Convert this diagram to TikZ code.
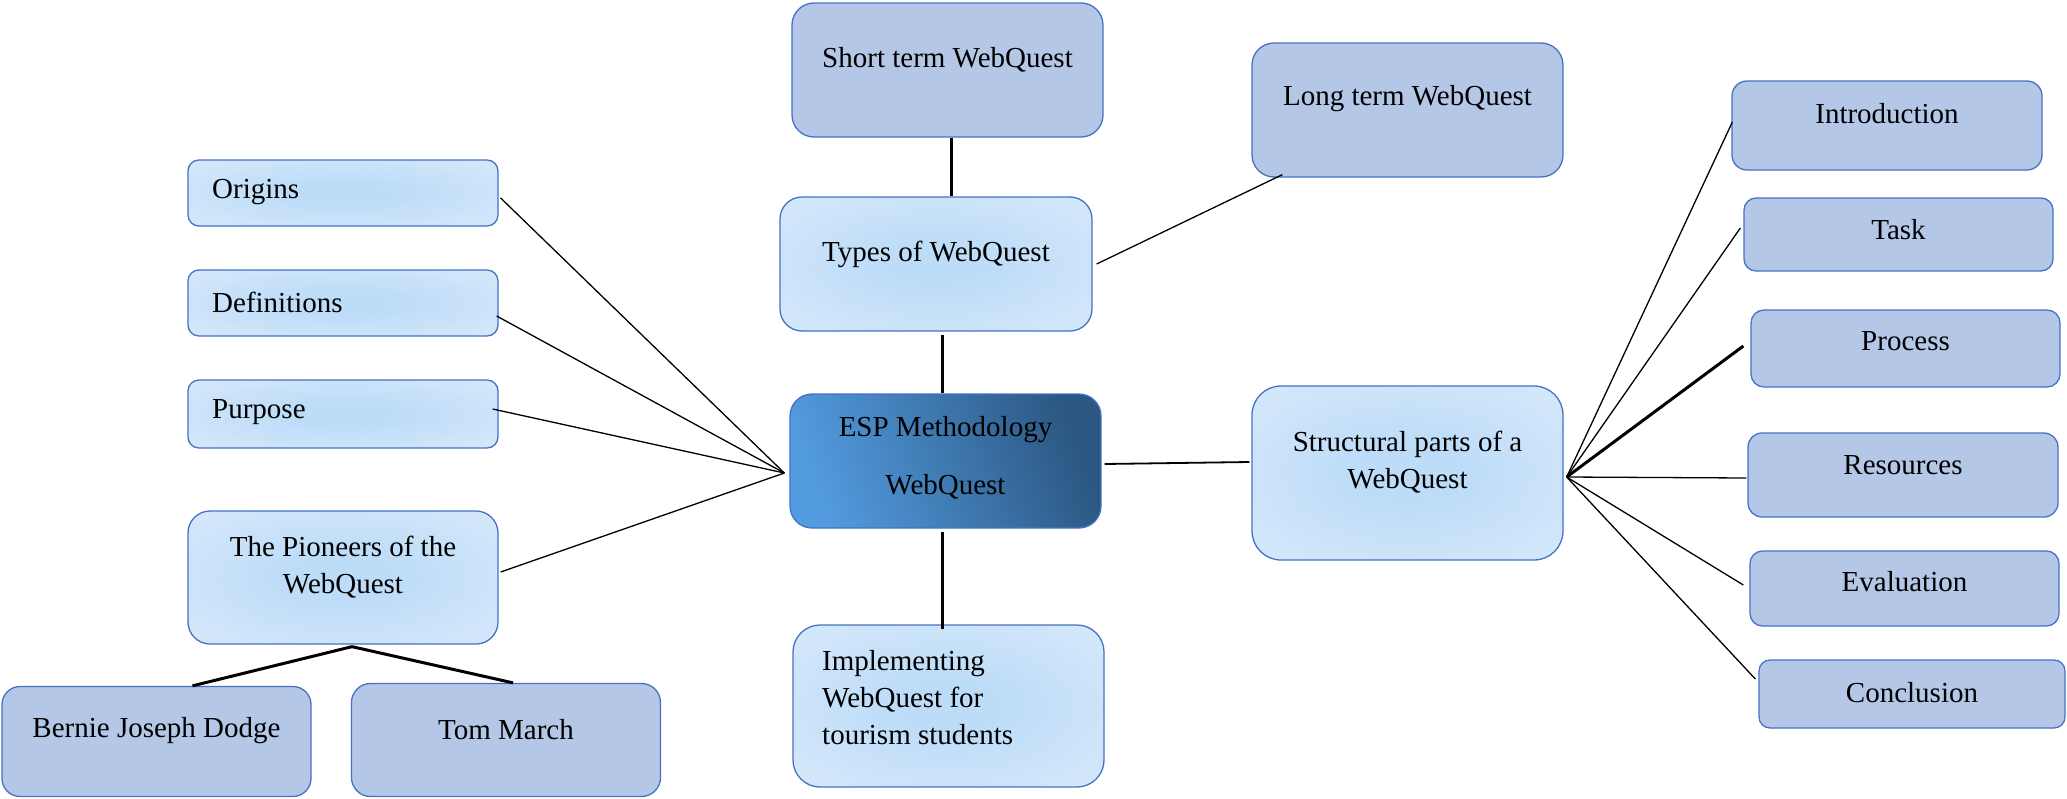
\documentclass[tikz,border=0pt]{standalone}
\usepackage{fontspec}
\setmainfont{Liberation Serif}
\definecolor{darkfill}{HTML}{B4C7E7}
\definecolor{bord}{HTML}{4472C4}
\definecolor{lightin}{HTML}{BDDCF8}
\definecolor{lightout}{HTML}{E4EFFC}
\definecolor{espL}{HTML}{529BDF}
\definecolor{espR}{HTML}{2C5782}
\pgfdeclareradialshading{lightrad}{\pgfpoint{0bp}{0bp}}{color(0bp)=(lightin); color(8bp)=(lightin); color(50bp)=(lightout); color(72bp)=(lightout)}
\tikzset{
  boxbase/.style={draw=bord, line width=1.3pt, inner sep=0pt},
  darkbox/.style={boxbase, fill=darkfill},
  lightbox/.style={boxbase, shade, shading=lightrad},
  espbox/.style={boxbase, left color=espL, right color=espR, shading angle=110},
  txt/.style={font=\fontsize{29}{37}\selectfont, inner sep=0pt, align=center},
  ltxt/.style={txt, align=left, anchor=west},
  thinline/.style={line width=1.3pt, black},
  thickline/.style={line width=3pt, black},
}
\begin{document}
\begin{tikzpicture}[x=1pt,y=-1pt]
\useasboundingbox (0,0) rectangle (2067,798);
% boxes
\node[darkbox, minimum width=311pt, minimum height=134pt, rounded corners=22pt] (short) at (947.5,70) {};
\node[lightbox, minimum width=312pt, minimum height=134pt, rounded corners=22pt] (types) at (936,264) {};
\node[espbox, minimum width=311pt, minimum height=134pt, rounded corners=22pt] (esp) at (945.5,461) {};
\node[lightbox, minimum width=311pt, minimum height=162pt, rounded corners=27pt] (impl) at (948.5,706) {};
\node[darkbox, minimum width=311pt, minimum height=134pt, rounded corners=22pt] (long) at (1407.5,110) {};
\node[lightbox, minimum width=311pt, minimum height=174pt, rounded corners=29pt] (struct) at (1407.5,473) {};
\node[darkbox, minimum width=310pt, minimum height=89pt, rounded corners=15pt] (intro) at (1887,125.5) {};
\node[darkbox, minimum width=309pt, minimum height=73pt, rounded corners=12pt] (task) at (1898.5,234.5) {};
\node[darkbox, minimum width=309pt, minimum height=77pt, rounded corners=13pt] (process) at (1905.5,348.5) {};
\node[darkbox, minimum width=310pt, minimum height=84pt, rounded corners=14pt] (resources) at (1903,475) {};
\node[darkbox, minimum width=309pt, minimum height=75pt, rounded corners=12.5pt] (evaluation) at (1904.5,588.5) {};
\node[darkbox, minimum width=306pt, minimum height=68pt, rounded corners=11pt] (conclusion) at (1912,694) {};
\node[lightbox, minimum width=310pt, minimum height=66pt, rounded corners=11pt] (origins) at (343,193) {};
\node[lightbox, minimum width=310pt, minimum height=66pt, rounded corners=11pt] (definitions) at (343,303) {};
\node[lightbox, minimum width=310pt, minimum height=68pt, rounded corners=11pt] (purpose) at (343,414) {};
\node[lightbox, minimum width=310pt, minimum height=133pt, rounded corners=22pt] (pioneers) at (343,577.5) {};
\node[darkbox, minimum width=309pt, minimum height=110pt, rounded corners=18pt] (bernie) at (156.5,741.5) {};
\node[darkbox, minimum width=309pt, minimum height=113pt, rounded corners=19pt] (tom) at (506,740) {};
% texts
\node[txt] (short-t) at (947.5,60) {Short term WebQuest};
\node[txt] (types-t) at (936,254) {Types of WebQuest};
\node[txt] (esp-t) at (945.5,458) {ESP Methodology\\[21pt]WebQuest};
\node[ltxt] (impl-t) at (822,698) {Implementing\\WebQuest for\\tourism students};
\node[txt] (long-t) at (1407.5,99) {Long term WebQuest};
\node[txt] (struct-t) at (1407.5,462) {Structural parts of a\\WebQuest};
\node[txt] (intro-t) at (1887,114) {Introduction};
\node[txt] (task-t) at (1898.5,230) {Task};
\node[txt] (process-t) at (1905.5,341) {Process};
\node[txt] (resources-t) at (1903,465) {Resources};
\node[txt] (evaluation-t) at (1904.5,582) {Evaluation};
\node[txt] (conclusion-t) at (1912,693) {Conclusion};
\node[ltxt] (origins-t) at (212,192.5) {Origins};
\node[ltxt] (definitions-t) at (212,302) {Definitions};
\node[ltxt] (purpose-t) at (212,412) {Purpose};
\node[txt] (pioneers-t) at (343,567) {The Pioneers of the\\WebQuest};
\node[txt] (bernie-t) at (156.5,731) {Bernie Joseph Dodge};
\node[txt] (tom-t) at (506,730) {Tom March};
% hubs
\coordinate (lhub) at ([xshift=-5pt,yshift=-12pt]esp.west);
\coordinate (rhub) at ([xshift=3pt,yshift=-4pt]struct.east);
\coordinate (ptop) at ([xshift=9pt,yshift=-2pt]pioneers.south);
% thick connectors
\draw[thickline] ([xshift=3.5pt]short.south) -- ([xshift=15pt]types.north);
\draw[thickline] ([xshift=6pt,yshift=-3pt]types.south) -- ([xshift=-3.5pt]esp.north);
\draw[thickline] ([xshift=-3.5pt,yshift=-3pt]esp.south) -- ([xshift=-6.5pt,yshift=-5pt]impl.north);
\draw[thickline] (ptop) -- ([xshift=36pt]bernie.north);
\draw[thickline] (ptop) -- ([xshift=7pt]tom.north);
\draw[thickline] (rhub) -- ([xshift=-7pt,yshift=2.5pt]process.west);
% thin connectors
\draw[line width=1.8pt] ([xshift=3pt,yshift=-3pt]esp.east) -- ([xshift=-2pt,yshift=11pt]struct.west);
\draw[thinline] ([xshift=4pt]types.east) -- ([xshift=31pt,yshift=3pt]long.south west);
\draw[thinline] (lhub) -- ([xshift=2pt,yshift=-5pt]origins.east);
\draw[thinline] (lhub) -- ([xshift=-2pt,yshift=-13pt]definitions.east);
\draw[thinline] (lhub) -- ([xshift=-6pt,yshift=5pt]purpose.east);
\draw[thinline] (lhub) -- ([xshift=2pt,yshift=5.5pt]pioneers.east);
\draw[thinline] (rhub) -- ([xshift=1pt,yshift=3.5pt]intro.west);
\draw[thinline] (rhub) -- ([xshift=-3pt,yshift=6.5pt]task.west);
\draw[thinline] (rhub) -- ([xshift=-1pt,yshift=-3pt]resources.west);
\draw[thinline] (rhub) -- ([xshift=-6pt,yshift=3.5pt]evaluation.west);
\draw[thinline] (rhub) -- ([xshift=-3pt,yshift=15pt]conclusion.west);
\end{tikzpicture}
\end{document}
